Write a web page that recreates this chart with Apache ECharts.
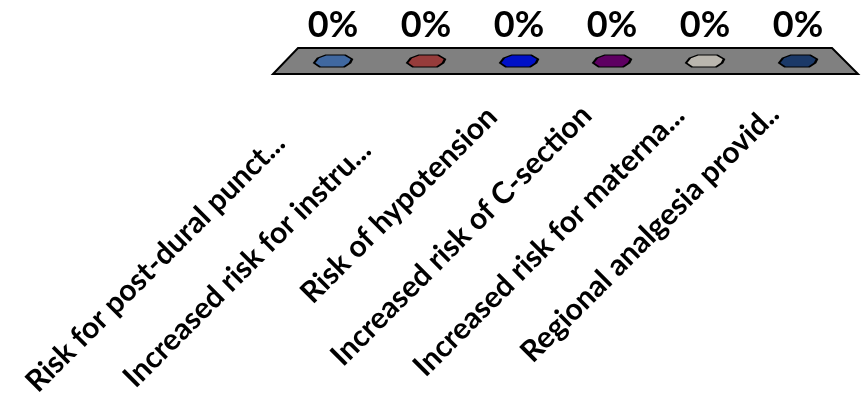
<!DOCTYPE html>
<html>
<head>
<meta charset="utf-8">
<script src="https://cdn.jsdelivr.net/npm/echarts@6/dist/echarts.min.js"></script>
<style>
  html, body { margin: 0; padding: 0; background: #fff; }
  #chart { width: 864px; height: 401px; }
</style>
</head>
<body>
<div id="chart"></div>
<script>
// Survey responses per statement (share of respondents)
const categories = [
  'Risk for post-dural punct...',
  'Increased risk for instru...',
  'Risk of hypotension',
  'Increased risk of C-section',
  'Increased risk for materna...',
  'Regional analgesia provid..'
];
const percentValues = [0, 0, 0, 0, 0, 0];
const barColors = ['#4068A0', '#963C3B', '#0010C8', '#5E0062', '#BAB6AE', '#1B3968'];

// label spacing along the slanted text direction
const labelPad = [75, 85, 38, 36, 36, 34];

const chart = echarts.init(document.getElementById('chart'), null, { renderer: 'canvas' });

// flat octagonal cap used for each zero-height column
const capPath = 'path://M0,8 L4,3 L12,0 L31,0 L38,4 L36,8 L30,12 L6,12 Z';

const option = {
  animation: false,
  grid: { left: 286.5, right: 19.5, top: 20, bottom: 340, containLabel: false },
  xAxis: {
    type: 'category',
    data: categories.map((c, i) => ({ value: c, textStyle: { padding: [0, labelPad[i], 0, 0] } })),
    axisLine: { show: false },
    axisTick: { show: false },
    axisLabel: {
      interval: 0,
      rotate: 45,
      margin: 24,
      color: '#000',
      fontFamily: 'Lato',
      fontWeight: 'bold',
      fontSize: 30
    }
  },
  yAxis: { type: 'value', min: 0, max: 1, show: false, splitLine: { show: false } },
  series: [
    {
      // perspective floor under the columns
      type: 'custom',
      silent: true,
      data: [[0, 0]],
      z: 1,
      renderItem: function (params, api) {
        const first = api.coord([0, 0]);
        const last = api.coord([categories.length - 1, 0]);
        const bw = api.size([1, 0])[0];
        const left = first[0] - bw / 2;
        const right = last[0] + bw / 2;
        const y0 = first[1];
        return {
          type: 'polygon',
          shape: { points: [
            [left + 11.5, y0 - 13], [right - 12.5, y0 - 13],
            [right + 13.5, y0 + 13], [left - 13.5, y0 + 13]
          ] },
          style: { fill: '#808080', stroke: '#000', lineWidth: 2 }
        };
      }
    },
    {
      type: 'scatter',
      z: 3,
      symbol: capPath,
      symbolSize: [38, 12],
      data: percentValues.map((v, i) => ({ value: v, itemStyle: { color: barColors[i] } })),
      itemStyle: { borderColor: '#000', borderWidth: 1.5, opacity: 1 },
      label: {
        show: true,
        position: 'inside',
        offset: [0, -36],
        formatter: p => p.value + '%',
        color: '#000',
        fontFamily: 'Lato',
        fontWeight: 'bold',
        fontSize: 36
      }
    }
  ]
};

chart.setOption(option);
</script>
</body>
</html>
